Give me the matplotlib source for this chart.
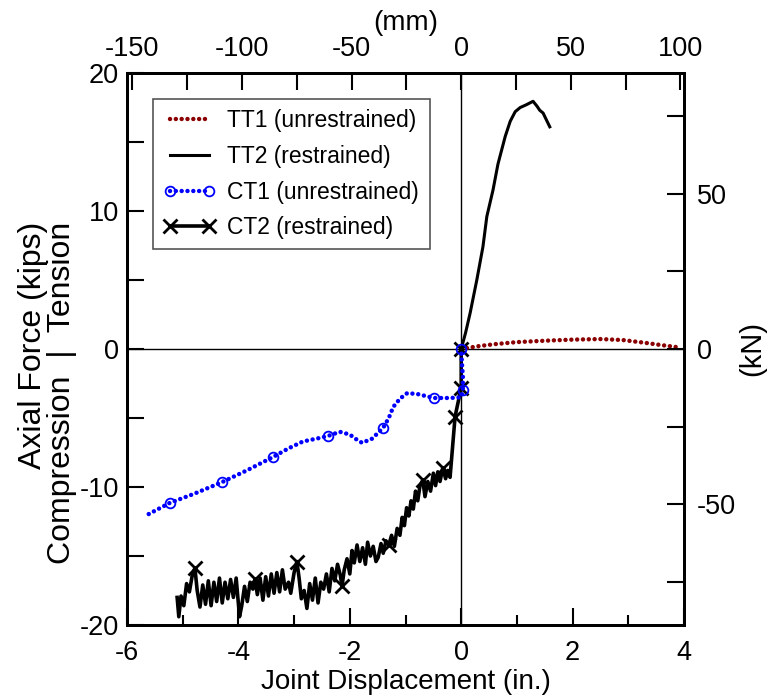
import numpy as np
import matplotlib.pyplot as plt
from matplotlib.ticker import MultipleLocator

plt.rcParams['font.family'] = ['Liberation Sans', 'DejaVu Sans']
plt.rcParams['axes.unicode_minus'] = False

# TT1 (unrestrained), inches / kips
tt1_x = [0.0, 0.15, 0.3, 0.6, 1.0, 1.5, 2.0, 2.5, 2.9, 3.3, 3.6, 3.85]
tt1_y = [0.0, 0.1, 0.2, 0.35, 0.5, 0.6, 0.68, 0.72, 0.65, 0.45, 0.28, 0.15]

# TT2 (restrained)
tt2_x = [0.0, 0.08, 0.16, 0.28, 0.39, 0.46, 0.57, 0.66, 0.79, 0.88, 0.97, 1.06,
         1.17, 1.29, 1.36, 1.41, 1.47, 1.53, 1.59]
tt2_y = [0.0, 1.2, 2.6, 5.0, 7.4, 9.6, 11.5, 13.4, 15.4, 16.5, 17.2, 17.5,
         17.7, 17.95, 17.6, 17.3, 17.1, 16.6, 16.1]

# CT1 (unrestrained)
ct1_x = [-5.61, -5.23, -4.8, -4.29, -3.85, -3.38, -3.1, -2.84, -2.6, -2.39, -2.18,
         -2.0, -1.9, -1.78, -1.6, -1.40, -1.3, -1.22, -1.1, -0.97, -0.79, -0.49,
         -0.20, 0.0, 0.03, 0.03, 0.01, 0.0]
ct1_y = [-11.96, -11.15, -10.5, -9.64, -8.8, -7.83, -7.2, -6.7, -6.5, -6.3, -6.0,
         -6.2, -6.5, -6.8, -6.5, -5.7, -5.0, -4.2, -3.6, -3.2, -3.26, -3.55,
         -3.55, -3.5, -3.0, -2.0, -0.8, 0.0]
ct1_marks = [1, 3, 5, 9, 15, 21, 24, 27]

# CT2 (restrained)
ct2_x = [-5.10, -5.07, -5.03, -4.98, -4.93, -4.88, -4.82, -4.78, -4.74, -4.69,
         -4.64, -4.59, -4.54, -4.49, -4.44, -4.39, -4.34, -4.29, -4.24, -4.19,
         -4.14, -4.09, -4.04, -3.98, -3.94, -3.89, -3.84, -3.79, -3.74, -3.70,
         -3.66, -3.61, -3.56, -3.51, -3.46, -3.41, -3.36, -3.31, -3.26, -3.21,
         -3.16, -3.10, -3.06, -3.00, -2.95, -2.91, -2.87, -2.82, -2.77, -2.72,
         -2.67, -2.62, -2.57, -2.52, -2.47, -2.42, -2.37, -2.32, -2.27, -2.22,
         -2.17, -2.14, -2.10, -2.05, -2.00, -1.96, -1.92, -1.87, -1.82, -1.77,
         -1.72, -1.68, -1.63, -1.58, -1.53, -1.49, -1.44, -1.40, -1.35, -1.30,
         -1.25, -1.20, -1.15, -1.10, -1.06, -1.02, -0.98, -0.94, -0.90, -0.86,
         -0.82, -0.78, -0.74, -0.69, -0.65, -0.60, -0.55, -0.50, -0.46, -0.42,
         -0.38, -0.33, -0.28, -0.24, -0.20, -0.11, 0.0, 0.0]
ct2_y = [-18.0, -19.4, -17.9, -18.6, -17.0, -17.6, -16.2, -15.9, -17.5, -18.7,
         -17.1, -18.5, -16.8, -18.6, -16.9, -18.3, -16.6, -18.4, -16.9, -18.1,
         -16.7, -18.0, -16.6, -19.4, -18.6, -17.2, -18.3, -16.9, -17.4, -16.7,
         -17.8, -16.6, -18.2, -16.5, -17.9, -16.3, -17.7, -16.2, -17.6, -16.0,
         -17.4, -16.9, -17.7, -16.2, -15.4, -16.6, -18.1, -17.5, -18.8, -17.0,
         -18.2, -16.6, -18.4, -16.9, -17.4, -16.3, -17.6, -15.9, -16.8, -15.6,
         -16.4, -17.2, -16.0, -15.2, -16.3, -14.6, -15.5, -14.2, -15.4, -14.4,
         -15.6, -14.0, -15.0, -14.3, -15.4, -15.1, -14.1, -14.8, -13.9, -14.2,
         -13.5, -14.3, -13.0, -13.5, -12.2, -12.8, -11.5, -12.1, -11.0, -11.6,
         -10.3, -11.0, -9.9, -9.5, -10.7, -9.6, -10.3, -9.0, -9.9, -8.9,
         -9.6, -8.6, -9.4, -8.8, -9.3, -4.9, -2.8, 0.0]
ct2_mark_x = [-4.78, -3.70, -2.95, -2.14, -1.30, -0.69, -0.33, -0.11]

KN_PER_KIP = 4.448
MM_PER_IN = 25.4

fig = plt.figure(figsize=(7.72, 6.98), dpi=100)
ax = fig.add_axes([127 / 772, 1 - 625 / 698, (684 - 127) / 772, (625 - 73) / 698])

ax.axhline(0, color='black', lw=1, zorder=1)
ax.axvline(0, color='black', lw=1, zorder=1)

dots = (0, (0.01, 1.3))
ax.plot(tt1_x, tt1_y, color='#8b0000', lw=3.2, ls=dots, dash_capstyle='round',
        label='TT1 (unrestrained)', zorder=3)
ax.plot(tt2_x, tt2_y, color='black', lw=2.2, label='TT2 (restrained)', zorder=3)
ax.plot(ct1_x, ct1_y, color='#0000ff', lw=3.2, ls=dots, dash_capstyle='round',
        marker='o', mfc='none', mec='#0000ff', ms=7, mew=1.3,
        markevery=ct1_marks, label='CT1 (unrestrained)', zorder=4)

ct2_marks = [int(np.argmin(np.abs(np.array(ct2_x) - v))) for v in ct2_mark_x]
ct2_marks += [len(ct2_x) - 2, len(ct2_x) - 1]
ax.plot(ct2_x, ct2_y, color='black', lw=2.6, marker='x', ms=10, mew=2,
        markevery=ct2_marks, label='CT2 (restrained)', zorder=3)

ax.set_xlim(-6, 4)
ax.set_ylim(-20, 20)
ax.xaxis.set_major_locator(MultipleLocator(2))
ax.xaxis.set_minor_locator(MultipleLocator(1))
ax.yaxis.set_major_locator(MultipleLocator(10))
ax.yaxis.set_minor_locator(MultipleLocator(5))
ax.tick_params(which='both', direction='in', labelsize=19.5, width=1.5)
ax.tick_params(which='major', length=12)
ax.tick_params(axis='x', which='minor', length=7)
ax.tick_params(axis='y', which='minor', length=12)
ax.tick_params(axis='x', pad=11)
ax.tick_params(axis='y', pad=6)
for s in ax.spines.values():
    s.set_linewidth(2)

ax.set_xlabel('Joint Displacement (in.)', fontsize=20, labelpad=2)

# secondary axes in SI units
top = ax.twiny()
top.set_xlim(-6 * MM_PER_IN, 4 * MM_PER_IN)
top.xaxis.set_major_locator(MultipleLocator(50))
top.xaxis.set_minor_locator(MultipleLocator(25))
top.tick_params(which='both', direction='in', length=12, width=1.5,
                labelsize=19.5, pad=8)
top.set_xlabel('(mm)', fontsize=20, labelpad=4)

right = ax.twinx()
right.set_ylim(-20 * KN_PER_KIP, 20 * KN_PER_KIP)
right.yaxis.set_major_locator(MultipleLocator(50))
right.yaxis.set_minor_locator(MultipleLocator(25))
right.tick_params(which='both', direction='in', length=12, width=1.5,
                  labelsize=19.5, pad=9)
for a in (top, right):
    for s in a.spines.values():
        s.set_linewidth(2)

fig.text(752 / 772, 1 - 349 / 698, '(kN)', rotation=90,
         ha='center', va='center', fontsize=21)
fig.text(33 / 772, 1 - 222 / 698, 'Axial Force (kips)', rotation=90,
         ha='center', va='top', fontsize=23)
fig.text(62 / 772, 1 - 222 / 698, 'Compression  |  Tension', rotation=90,
         ha='center', va='top', fontsize=23)

leg = ax.legend(loc='upper left', bbox_to_anchor=(26 / 557, 1 - 26 / 552),
                fontsize=16.5, handlelength=2.3, handletextpad=0.5,
                labelspacing=0.55, borderpad=0.45, borderaxespad=0,
                fancybox=False, framealpha=1, numpoints=2)
leg.get_frame().set_edgecolor('#555555')
leg.get_frame().set_linewidth(1.2)

fig.savefig('out.png', dpi=100)
